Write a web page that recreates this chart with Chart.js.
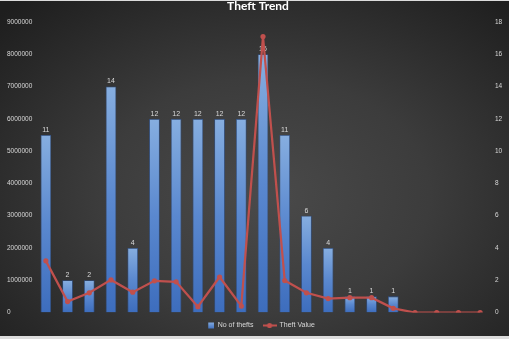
<!DOCTYPE html>
<html>
<head>
<meta charset="utf-8">
<script src="https://cdn.jsdelivr.net/npm/chart.js@4.4.1/dist/chart.umd.min.js"></script>
<style>
  html, body { margin: 0; padding: 0; }
  body { width: 509px; height: 339px; background: #dcdcdc; position: relative; overflow: hidden; }
  #bg {
    position: absolute; left: 0; top: 1px; width: 509px; height: 335px;
    background: radial-gradient(ellipse 72% 78% at 52% 58%, #4a4a4a 0%, #3c3c3c 45%, #262626 85%, #1e1e1e 100%);
  }
  #wrap { position: absolute; left: 0; top: 0; width: 509px; height: 339px; }
  canvas { display: block; }
</style>
</head>
<body>
<div id="bg"></div>
<div id="wrap"><canvas id="chart" width="509" height="339"></canvas></div>
<script>
// Reporting periods (not labelled on the axis)
const periods = ['1','2','3','4','5','6','7','8','9','10','11','12','13','14','15','16','17','18','19','20','21'];

// Number of thefts per period (right axis)
const theftCounts = [11, 2, 2, 14, 4, 12, 12, 12, 12, 12, 16, 11, 6, 4, 1, 1, 1, null, null, null, null];

// Value of thefts per period (left axis)
const theftValues = [1600000, 340000, 610000, 1010000, 630000, 980000, 950000, 180000, 1100000, 200000,
                     8550000, 990000, 610000, 430000, 460000, 460000, 130000, 0, 0, 0, 0];

// Axis ranges
const valueAxis = { min: 0, max: 9000000, step: 1000000 };
const countAxis = { min: 0, max: 18, step: 2 };

const BAR_BLUE = '#4f81bd';
const LINE_RED = '#c0504d';
const TEXT_GREY = '#d9d9d9';

// Legend swatches: a small square for the bars, a line with a dot for the line series
function squareSwatch() {
  const c = document.createElement('canvas');
  c.width = 13; c.height = 7;
  const g = c.getContext('2d');
  const grad = g.createLinearGradient(0, 0, 0, 7);
  grad.addColorStop(0, '#86aee0');
  grad.addColorStop(1, '#3f6fbf');
  g.fillStyle = grad;
  g.fillRect(7, 0.5, 6, 6);
  return c;
}
function lineSwatch() {
  const c = document.createElement('canvas');
  c.width = 14; c.height = 7;
  const g = c.getContext('2d');
  g.strokeStyle = LINE_RED;
  g.lineWidth = 2;
  g.beginPath(); g.moveTo(0, 3.5); g.lineTo(14, 3.5); g.stroke();
  g.fillStyle = LINE_RED;
  g.beginPath(); g.arc(7, 3.5, 2.6, 0, Math.PI * 2); g.fill();
  return c;
}

// Per-bar vertical gradient, light at the top and deeper blue at the base
function barFill(ctx) {
  const chart = ctx.chart;
  if (ctx.type !== 'data' || !chart.chartArea || ctx.raw == null) return BAR_BLUE;
  const scale = chart.scales.y1;
  const top = scale.getPixelForValue(ctx.raw);
  const base = scale.getPixelForValue(0);
  if (!isFinite(top) || !isFinite(base) || base - top < 1) return BAR_BLUE;
  const grad = chart.ctx.createLinearGradient(0, top, 0, base);
  grad.addColorStop(0, '#86aee0');
  grad.addColorStop(0.5, '#5a88cf');
  grad.addColorStop(1, '#3d6dbd');
  return grad;
}

// Count labels written above each bar, drawn before the line so the line passes over them
const barValueLabels = {
  id: 'barValueLabels',
  afterDatasetDraw(chart, args) {
    if (args.index !== 0) return;
    const ctx = chart.ctx;
    const data = chart.data.datasets[0].data;
    ctx.save();
    ctx.font = '7px "Liberation Sans", Arial, sans-serif';
    ctx.fillStyle = TEXT_GREY;
    ctx.textAlign = 'center';
    ctx.textBaseline = 'bottom';
    args.meta.data.forEach((bar, i) => {
      const v = data[i];
      if (v == null) return;
      ctx.fillText(String(v), bar.x, bar.y - 1.5);
    });
    ctx.restore();
  }
};

new Chart(document.getElementById('chart'), {
  type: 'bar',
  data: {
    labels: periods,
    datasets: [
      {
        label: 'No of thefts',
        data: theftCounts,
        yAxisID: 'y1',
        order: 1,
        backgroundColor: barFill,
        borderColor: 'rgba(45,85,150,0.85)',
        borderWidth: 0.8,
        barPercentage: 0.49,
        categoryPercentage: 1
      },
      {
        type: 'line',
        label: 'Theft Value',
        data: theftValues,
        yAxisID: 'y',
        order: 0,
        borderColor: LINE_RED,
        borderWidth: 2.25,
        tension: 0,
        pointRadius: 2.6,
        pointBackgroundColor: LINE_RED,
        pointBorderColor: LINE_RED,
        pointBorderWidth: 0
      }
    ]
  },
  options: {
    responsive: false,
    animation: false,
    devicePixelRatio: 1,
    layout: { padding: { left: 7, top: 0, right: 0, bottom: 0 } },
    scales: {
      x: { display: false, offset: true, grid: { display: false } },
      y: {
        position: 'left',
        min: valueAxis.min, max: valueAxis.max,
        grid: { display: false, drawTicks: false },
        border: { display: false },
        ticks: {
          stepSize: valueAxis.step,
          crossAlign: 'far',
          padding: 0,
          color: TEXT_GREY,
          font: { family: '"Liberation Sans", Arial, sans-serif', size: 6.5 },
          callback: v => String(v)
        },
        afterFit: s => { s.width = 28; }
      },
      y1: {
        position: 'right',
        min: countAxis.min, max: countAxis.max,
        grid: { display: false, drawTicks: false },
        border: { display: false },
        ticks: {
          stepSize: countAxis.step,
          padding: 4,
          color: TEXT_GREY,
          font: { family: '"Liberation Sans", Arial, sans-serif', size: 6.5 }
        },
        afterFit: s => { s.width = 18; }
      }
    },
    plugins: {
      tooltip: { enabled: false },
      title: {
        display: true,
        text: 'Theft Trend',
        color: '#ffffff',
        font: { family: 'Lato, "Liberation Sans", sans-serif', size: 12, weight: 'bold', lineHeight: 1 },
        padding: { top: 0, bottom: 10 }
      },
      legend: {
        display: true,
        position: 'bottom',
        labels: {
          usePointStyle: true,
          pointStyleWidth: 13,
          padding: 9.5,
          color: TEXT_GREY,
          font: { family: '"Liberation Sans", Arial, sans-serif', size: 7 },
          generateLabels: chart => [
            { text: 'No of thefts', pointStyle: squareSwatch(), fontColor: TEXT_GREY, datasetIndex: 0, hidden: false, lineWidth: 0 },
            { text: 'Theft Value', pointStyle: lineSwatch(), fontColor: TEXT_GREY, datasetIndex: 1, hidden: false, lineWidth: 0 }
          ]
        }
      }
    }
  },
  plugins: [barValueLabels]
});
</script>
</body>
</html>
